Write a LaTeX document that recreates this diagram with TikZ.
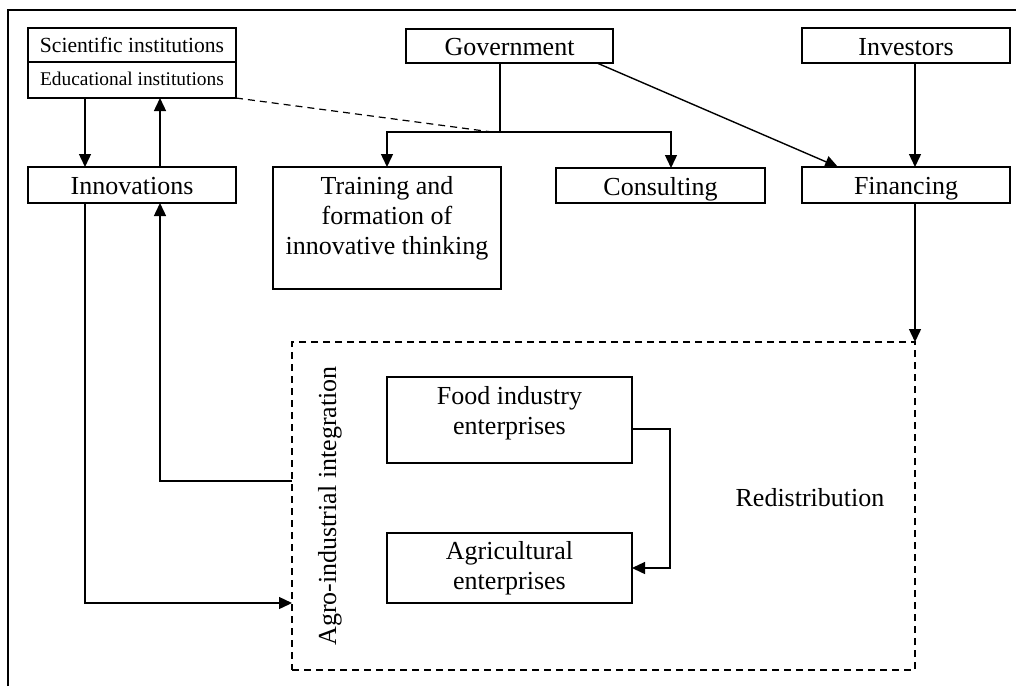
\documentclass[tikz,border=0pt]{standalone}
\usepackage{fontspec}
\setmainfont{Liberation Serif}
\usetikzlibrary{arrows.meta}
\begin{document}
\begin{tikzpicture}[x=0.5pt,y=-0.5pt,
  box/.style={draw,line width=0.7pt,inner sep=0pt,outer sep=0pt,font=\fontsize{13}{15}\selectfont},
  one/.style={text height=10.5pt,text depth=1pt},
  dbox/.style={draw,line width=0.6pt,dash pattern=on 3.5pt off 2.5pt,inner sep=0pt,outer sep=0pt},
  txt/.style={font=\fontsize{13}{15}\selectfont,align=center,inner sep=0pt},
  arr/.style={line width=0.7pt,-{Triangle[length=6.5pt,width=6pt]}},
  ln/.style={line width=0.7pt},
  dln/.style={line width=0.6pt,dash pattern=on 3.5pt off 2.5pt}]
\useasboundingbox (0,0) rectangle (1016,686);
% outer frame (only left and top edges visible)
\draw[line width=0.7pt] (8,686) -- (8,10) -- (1016,10);
% boxes
\node[box,minimum width=104pt,minimum height=17pt,font=\fontsize{10.8}{12}\selectfont,text height=8.5pt,text depth=1pt] (sci) at (132,45) {Scientific institutions};
\node[box,minimum width=104pt,minimum height=18pt,font=\fontsize{9.7}{11}\selectfont,text height=6.5pt,text depth=1.5pt] (edu) at (132,80) {Educational institutions};
\node[box,one,minimum width=103.5pt,minimum height=17pt] (gov) at (509.5,46) {Government};
\node[box,one,minimum width=104pt,minimum height=17.5pt] (inv) at (906,45.5) {Investors};
\node[box,one,minimum width=104pt,minimum height=18pt] (innov) at (132,185) {Innovations};
\node[box,minimum width=114pt,minimum height=61pt] (train) at (387,228) {};
\node[txt] (traintxt) at (387,218) {Training and\\formation of\\innovative thinking};
\node[box,one,minimum width=104.5pt,minimum height=17.5pt] (cons) at (660.5,185.5) {Consulting};
\node[box,one,minimum width=104pt,minimum height=18pt] (fin) at (906,185) {Financing};
\node[dbox,minimum width=311.5pt,minimum height=164pt] (dash) at (603.5,506) {};
\node[box,minimum width=122.5pt,minimum height=43pt] (food) at (509.5,420) {};
\node[txt] (foodtxt) at (509.5,413) {Food industry\\enterprises};
\node[box,minimum width=122.5pt,minimum height=35pt,align=center] (agri) at (509.5,568) {Agricultural\\enterprises};
\node[txt,rotate=90] (agro) at (330,506) {Agro-industrial integration};
\node[txt] (redis) at (810,498) {Redistribution};
% helper coordinates
\coordinate (j) at (500,132);
\coordinate (ly) at (0,481);
% connectors
\draw[arr] ([xshift=28.5pt]edu.south west) -- ([xshift=28.5pt]innov.north west);
\draw[arr] ([xshift=66pt]innov.north west) -- ([xshift=66pt]edu.south west);
\draw[dln] (edu.south east) -- ([xshift=-4pt]j);
\draw[ln] (j |- gov.south) -- (j);
\draw[arr] (j) -| (train.north);
\draw[arr] (j) -| ([xshift=5.25pt]cons.north);
\draw[arr] ([xshift=-8pt]gov.south east) -- ([xshift=18pt]fin.north west);
\draw[arr] ([xshift=4.5pt]inv.south) -- ([xshift=4.5pt]fin.north);
\draw[arr] ([xshift=4.5pt]fin.south) -- (dash.north east);
\draw[arr] ([xshift=28.5pt]innov.south west) |- (dash.west |- agri.south);
\draw[arr] (dash.west |- ly) -| ([xshift=66pt]innov.south west);
\draw[arr] ([yshift=-4.5pt]food.east) -- ++(38,0) |- (agri.east);
\end{tikzpicture}
\end{document}
